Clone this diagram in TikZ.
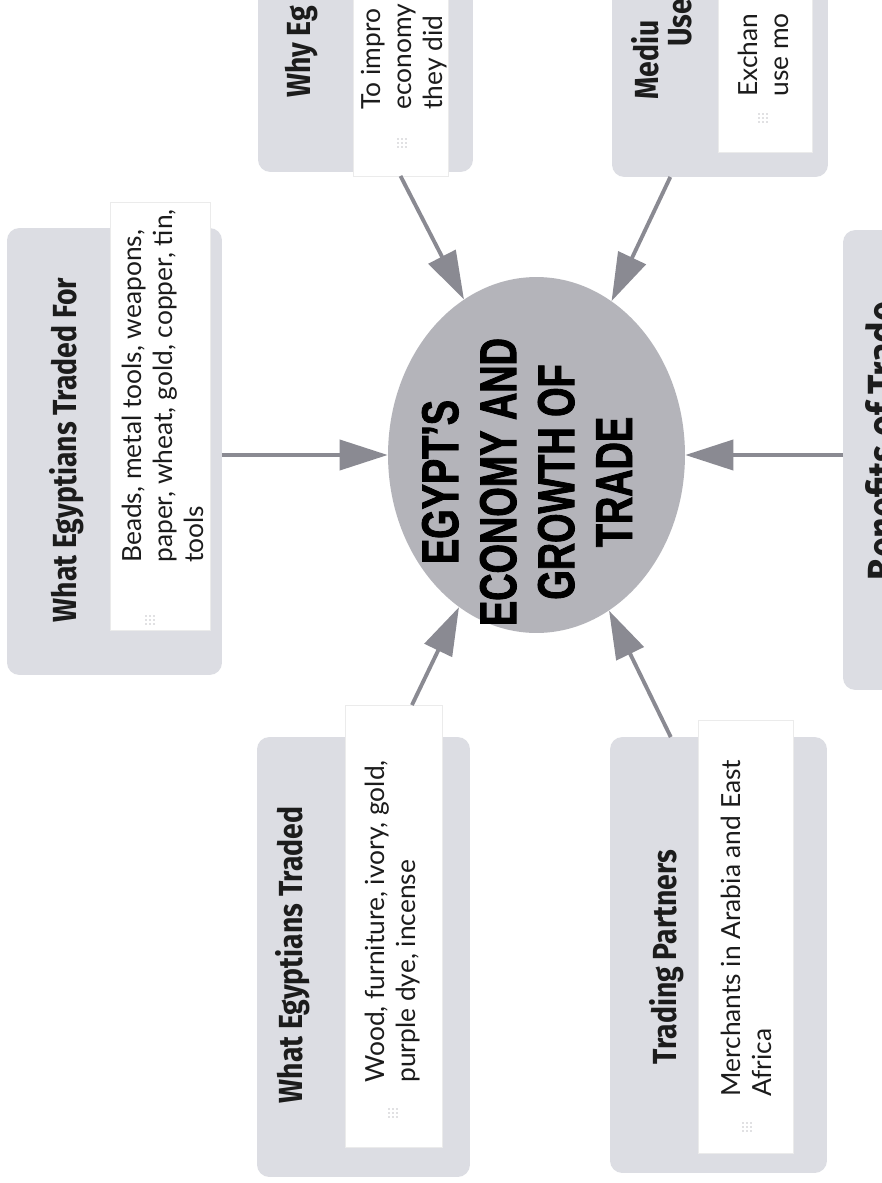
\documentclass[tikz,border=0pt]{standalone}
\usepackage{fontspec}
\usepackage{tikz}
\usetikzlibrary{arrows.meta,calc,shapes.geometric}
\newfontfamily\headfont{Fira Sans}[FakeStretch=0.85]
\newfontfamily\bodyfont{Lato}
\newfontfamily\hubfont{Liberation Sans}[FakeStretch=0.73, FakeBold=1.6]
\definecolor{panelgray}{HTML}{DCDDE3}
\definecolor{hubgray}{HTML}{B4B4BA}
\definecolor{wiregray}{HTML}{8A8A92}
\definecolor{ink}{HTML}{1C1C1C}
\definecolor{dotgray}{HTML}{C4C4C8}
\tikzset{
	concept map/.style={x=0.02cm, y=-0.02cm},
	panel/.style={fill=panelgray, rounded corners=7pt, inner sep=0pt, outer sep=0pt},
	card/.style={fill=white, draw=black!8, inner sep=0pt, outer sep=0pt},
	head/.style={rotate=90, text=ink, inner sep=0pt,
		font=\headfont\bfseries\fontsize{19}{22}\selectfont},
	body/.style={rotate=90, text=ink, inner sep=0pt, align=left,
		font=\bodyfont\fontsize{15}{17.6}\selectfont},
	hub/.style={ellipse, fill=hubgray, inner sep=0pt,
		minimum width=5.94cm, minimum height=7.12cm},
	hub text/.style={rotate=90, text=black, inner sep=0pt, align=center,
		font=\hubfont\bfseries\fontsize{29.5}{33}\selectfont},
	feed/.style={draw=wiregray, line width=2.2pt,
		-{Triangle[length=0.96cm, width=0.6cm]}},
	grip/.pic={
		\foreach \i in {-1,0,1}
			\foreach \j in {-1,0,1}
				\fill[dotgray] (\i*4,\j*4) circle (0.55pt);
	}
}

\begin{document}
\begin{tikzpicture}[concept map]
	\useasboundingbox (0,0) rectangle (882,1183);
	\fill[white] (0,0) rectangle (882,1183);
	\clip (0,0) rectangle (882,1183);

	% centre
	\node[hub] (hub) at (536.5,455) {};
	\node[hub text] (hubtitle) at (527,482) {EGYPT’S\\ECONOMY AND\\GROWTH OF\\TRADE};

	% left: traded for
	\node[panel, minimum width=4.3cm, minimum height=8.94cm] (tradedfor) at (114.5,451.5) {};
	\node[card, minimum width=2cm, minimum height=8.56cm] (tradedforcard) at (160,416) {};
	\node[head] (tradedforhead) at (67,450) {What Egyptians Traded For};
	\node[body, anchor=north west] (tradedforbody) at (122,563)
		{Beads, metal tools, weapons,\\paper, wheat, gold, copper, tin,\\tools};
	\pic at (150,620) {grip};

	% top left: why
	\node[panel, minimum width=4.3cm, minimum height=8.44cm] (why) at (365.5,-39) {};
	\node[card, minimum width=1.9cm, minimum height=8.52cm] (whycard) at (400.5,-37) {};
	\node[head, anchor=west] (whyhead) at (302,98) {Why Eg};
	\node[body, anchor=north west] (whybody) at (361,110) {To impro\\economy\\they did};
	\pic at (402,143) {grip};

	% top right: medium
	\node[panel, minimum width=4.32cm, minimum height=8.54cm] (medium) at (720,-36.5) {};
	\node[card, minimum width=1.88cm, minimum height=8.04cm] (mediumcard) at (765,-49) {};
	\node[head, anchor=west] (mediumhead) at (645,100) {Mediu};
	\node[head, anchor=west] (mediumheadb) at (680,47) {Use};
	\node[body, anchor=north west] (mediumbody) at (738,97) {Exchan\\use mo};
	\pic at (763,118) {grip};

	% right: benefits
	\node[panel, minimum width=3.14cm, minimum height=9.2cm] (benefits) at (921.5,460) {};
	\node[head, anchor=base, font=\headfont\bfseries\fontsize{24}{28}\selectfont]
		(benefitshead) at (897,441) {Benefits of Trade};

	% bottom left: traded
	\node[panel, minimum width=4.26cm, minimum height=8.8cm] (traded) at (363.5,957) {};
	\node[card, minimum width=1.94cm, minimum height=8.84cm] (tradedcard) at (393.5,926) {};
	\node[head] (tradedhead) at (293,955) {What Egyptians Traded};
	\node[body, anchor=north west] (tradedbody) at (365,1083)
		{Wood, furniture, ivory, gold,\\purple dye, incense};
	\pic at (393,1113) {grip};

	% bottom right: partners
	\node[panel, minimum width=4.34cm, minimum height=8.72cm] (partners) at (718.5,955) {};
	\node[card, minimum width=1.9cm, minimum height=8.66cm] (partnerscard) at (745.5,936.5) {};
	\node[head] (partnershead) at (667,957) {Trading Partners};
	\node[body, anchor=north west] (partnersbody) at (721,1097)
		{Merchants in Arabia and East\\Africa};
	\pic at (747,1127) {grip};

	% arrows into the centre
	\draw[feed] (tradedfor.east |- hub.west) -- (hub.west);
	\draw[feed] (benefits.west |- hub.east) -- (hub.east);
	\draw[feed] (whycard.south) -- (hub.115);
	\draw[feed] ($(medium.south west)!.27!(medium.south east)$) -- (hub.64);
	\draw[feed] ($(tradedcard.north west)!.69!(tradedcard.north east)$) -- (hub.243);
	\draw[feed] ($(partners.north west)!.28!(partners.north east)$) -- (hub.295);
\end{tikzpicture}
\end{document}
